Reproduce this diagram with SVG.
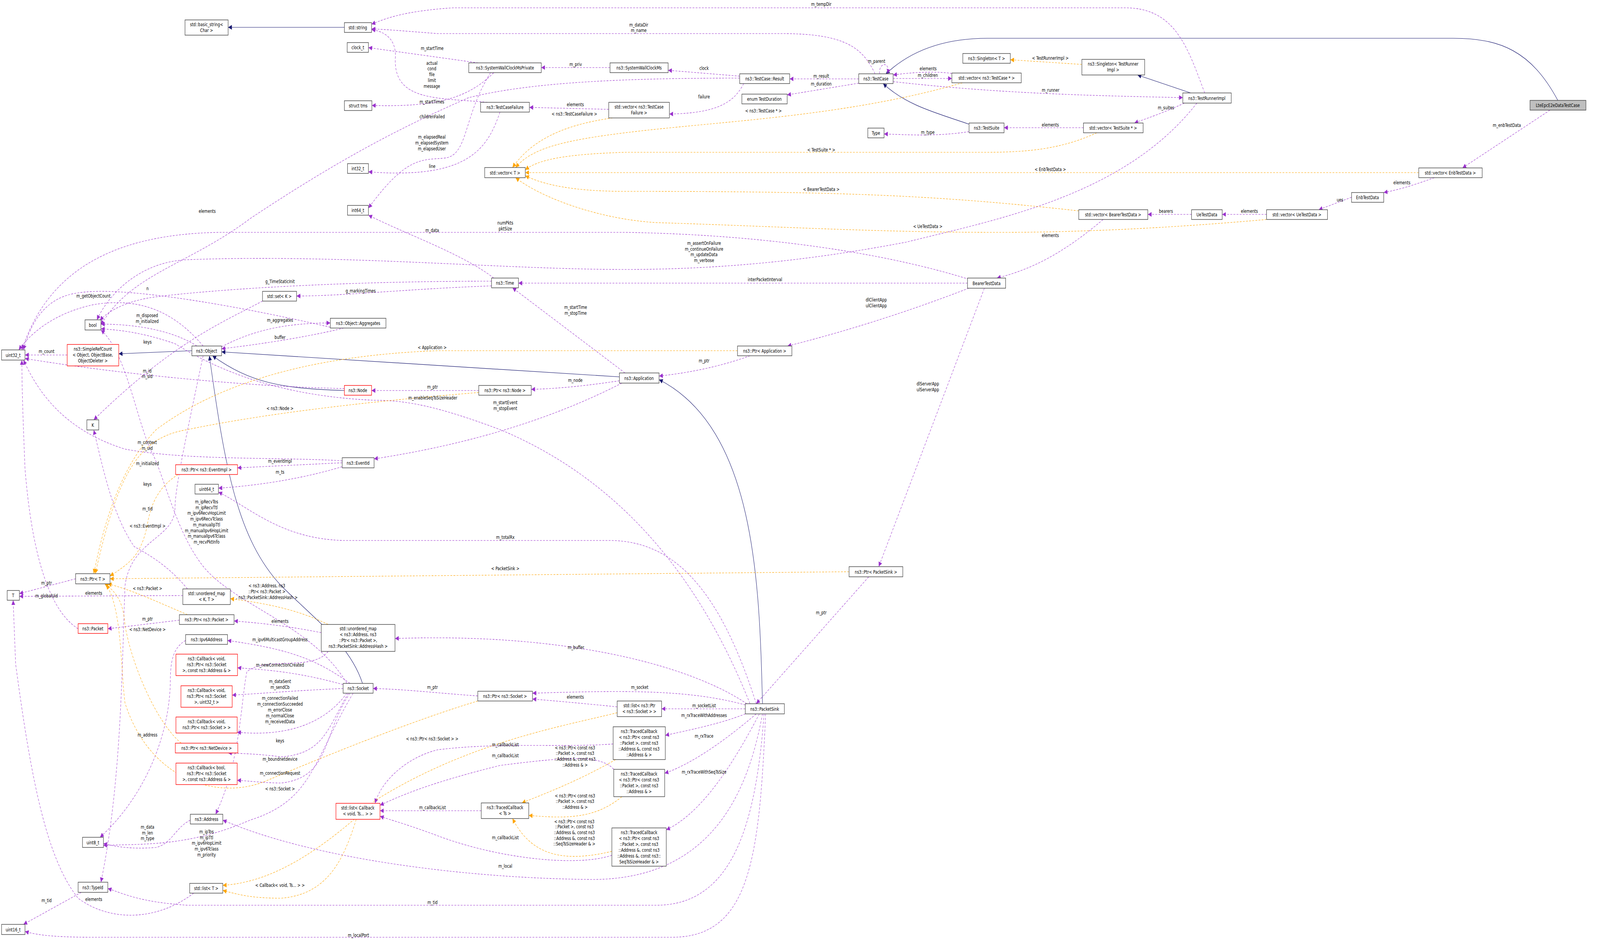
<svg xmlns="http://www.w3.org/2000/svg" width="5081" height="2407" viewBox="0 0 5081 2407">
<style>
text{font-family:"DejaVu Sans Condensed","DejaVu Sans","Liberation Sans",sans-serif;font-size:13px;fill:#000;text-anchor:middle}
.b{fill:#fff;stroke:#404040;stroke-width:1.4}
.r{fill:#fff;stroke:#ff0000;stroke-width:1.4}
.g{fill:#bfbfbf;stroke:#404040;stroke-width:1.4}
.p{fill:none;stroke:#9a32cd;stroke-width:1.1;stroke-dasharray:6,4;marker-end:url(#mp)}
.o{fill:none;stroke:#ffa500;stroke-width:1.1;stroke-dasharray:6,4;marker-end:url(#mo)}
.n{fill:none;stroke:#191970;stroke-width:1.2;marker-end:url(#mn)}
</style>
<defs>
<marker id="mp" viewBox="0 0 10 10" refX="10" refY="5" markerWidth="12" markerHeight="12" markerUnits="userSpaceOnUse" orient="auto"><path d="M0,0L10,5L0,10z" fill="#9a32cd"/></marker>
<marker id="mo" viewBox="0 0 10 10" refX="10" refY="5" markerWidth="12" markerHeight="12" markerUnits="userSpaceOnUse" orient="auto"><path d="M0,0L10,5L0,10z" fill="#ffa500"/></marker>
<marker id="mn" viewBox="0 0 10 10" refX="10" refY="5" markerWidth="12" markerHeight="12" markerUnits="userSpaceOnUse" orient="auto"><path d="M0,0L10,5L0,10z" fill="#191970"/></marker>
</defs>
<rect width="5081" height="2407" fill="#fff"/>
<g transform="scale(0.8,1)">
<g id="edges">
<path class="n" d="M1102,70L730,70"/>
<path class="n" d="M4985,257C4900,130 4800,98 4650,98L3160,98C3000,98 2900,140 2835,189"/>
<path class="n" d="M3101,318C3000,290 2900,270 2826,214"/>
<path class="n" d="M3810,238L3640,192"/>
<path class="n" d="M614,898L380,906"/>
<path class="n" d="M1102,1000C900,995 800,980 680,911"/>
<path class="n" d="M1982,965L709,901"/>
<path class="n" d="M1160,1750C1120,1650 1000,1580 900,1500C760,1380 720,1200 670,911"/>
<path class="n" d="M2440,1802C2430,1500 2420,1100 2109,972"/>
<path class="p" d="M2800,189C2760,120 2700,86 2500,86L1400,86C1300,80 1250,76 1189,74"/>
<path class="p" d="M3855,238C3800,120 3760,20 3600,20L1450,20C1300,28 1240,45 1189,62"/>
<path class="p" d="M1530,161L1179,122"/>
<path class="p" d="M1560,262C1400,250 1260,260 1265,150C1270,100 1230,80 1189,76"/>
<path class="p" d="M1580,186C1500,250 1400,275 1190,270"/>
<path class="p" d="M2367,200C2000,200 1700,210 1500,250C1300,320 1100,400 800,560C600,680 420,700 323,832"/>
<path class="p" d="M1570,186C1480,300 1500,400 1420,405C1350,410 1300,400 1179,533"/>
<path class="p" d="M1600,287C1560,380 1500,460 1179,440"/>
<path class="p" d="M1948,280L1694,275"/>
<path class="p" d="M1952,173L1732,173"/>
<path class="p" d="M2367,195L2138,180"/>
<path class="p" d="M2380,214C2350,260 2300,290 2142,292"/>
<path class="p" d="M2748,202L2527,202"/>
<path class="p" d="M2748,213L2519,243"/>
<path class="p" d="M2815,189C2810,160 2850,155 2840,189"/>
<path class="p" d="M3046,188C2990,182 2920,185 2858,192"/>
<path class="p" d="M2858,201L3046,201"/>
<path class="p" d="M2858,209C3200,240 3500,245 3785,250"/>
<path class="p" d="M3790,264C3720,290 3680,300 3630,315"/>
<path class="p" d="M3467,327L3213,327"/>
<path class="p" d="M3101,337C3000,350 2900,345 2829,343"/>
<path class="p" d="M3830,264C3600,500 3200,560 2900,620C2700,650 2400,690 2000,690C1600,690 1100,650 600,665C450,670 350,750 310,819"/>
<path class="p" d="M3100,715C2800,640 2400,600 2000,595L700,595C350,600 150,700 70,896"/>
<path class="p" d="M1580,712C1480,650 1300,600 1179,551"/>
<path class="p" d="M3096,725L1659,725"/>
<path class="p" d="M2000,955L1640,737"/>
<path class="p" d="M1573,732C1300,740 1100,758 949,758"/>
<path class="p" d="M1573,720C1100,720 700,740 500,760C400,770 340,800 320,821"/>
<path class="p" d="M1057,838C800,790 400,730 250,750C150,760 100,820 75,896"/>
<path class="p" d="M1100,840C1000,860 850,880 709,893"/>
<path class="p" d="M709,888C800,850 900,827 1057,827"/>
<path class="p" d="M630,886C560,850 450,830 323,830"/>
<path class="p" d="M650,886C560,800 450,760 300,780C180,800 100,850 60,896"/>
<path class="p" d="M840,771C700,830 550,880 300,1075"/>
<path class="p" d="M215,909L80,909"/>
<path class="p" d="M1102,995C800,990 400,960 80,918"/>
<path class="p" d="M1532,1000L1189,1000"/>
<path class="p" d="M1982,975C1900,985 1800,995 1700,997"/>
<path class="p" d="M1990,981C1700,1100 1400,1150 1197,1175"/>
<path class="p" d="M2400,911C2300,940 2200,955 2109,963"/>
<path class="p" d="M3100,738C2900,800 2700,850 2520,886"/>
<path class="p" d="M3150,738L2812,1451"/>
<path class="p" d="M2780,1477L2420,1802"/>
<path class="p" d="M3530,562C3400,650 3300,690 3190,712"/>
<path class="p" d="M3813,549L3673,549"/>
<path class="p" d="M4053,549L3911,549"/>
<path class="p" d="M4325,505L4220,537"/>
<path class="p" d="M4590,455C4520,475 4480,485 4428,493"/>
<path class="p" d="M4960,282L4680,430"/>
<path class="p" d="M1095,1180C900,1170 600,1180 400,1150C200,1100 120,1000 75,922"/>
<path class="p" d="M1095,1185L760,1198"/>
<path class="p" d="M1095,1195C950,1230 800,1245 699,1250"/>
<path class="p" d="M2420,1802C2300,1500 2150,1384 1950,1384L1100,1384C900,1380 800,1300 699,1260"/>
<path class="p" d="M2400,1802C2200,1400 1900,1200 1600,1100C1400,1040 1300,1025 1200,1025C900,1015 700,950 560,880C450,850 380,845 323,842"/>
<path class="p" d="M242,1482L62,1520"/>
<path class="p" d="M250,1610C150,1560 100,1400 80,1200C75,1100 70,1000 70,922"/>
<path class="p" d="M585,1525L62,1527"/>
<path class="p" d="M600,1508C550,1460 500,1430 430,1400C360,1320 330,1200 300,1101"/>
<path class="p" d="M574,1588L345,1610"/>
<path class="p" d="M1028,1620C900,1600 820,1595 749,1590"/>
<path class="p" d="M1050,1668C1000,1720 850,1680 790,1720C770,1800 770,1950 690,2085"/>
<path class="p" d="M1120,1750C1000,1680 900,1660 728,1640"/>
<path class="p" d="M1098,1753C950,1720 850,1715 760,1710"/>
<path class="p" d="M1098,1763C950,1768 850,1775 743,1780"/>
<path class="p" d="M1110,1775C1060,1830 960,1890 759,1875"/>
<path class="p" d="M1115,1775C1050,1860 1040,1930 900,1938C820,1930 780,1930 730,1928"/>
<path class="p" d="M1120,1775C1030,1880 1060,1990 900,2005C850,2005 800,2000 759,1998"/>
<path class="p" d="M1130,1775C1000,1950 1000,2050 800,2100C600,2170 450,2160 331,2165"/>
<path class="p" d="M1110,1750C1000,1600 750,1550 650,1450C560,1360 520,1200 480,1150C430,1050 400,900 323,845"/>
<path class="p" d="M1529,1782C1400,1775 1300,1765 1194,1763"/>
<path class="p" d="M2385,1805C2200,1765 2000,1768 1704,1775"/>
<path class="p" d="M1975,1810C1850,1800 1780,1795 1704,1790"/>
<path class="p" d="M2385,1815L2117,1815"/>
<path class="p" d="M2385,1828C2300,1855 2200,1870 2129,1883"/>
<path class="p" d="M2420,1828C2300,1910 2200,1960 2127,1980"/>
<path class="p" d="M2430,1828C2350,1950 2250,2080 2132,2125"/>
<path class="p" d="M1962,1905C1800,1915 1600,1900 1400,1920C1300,1940 1220,2000 1200,2057"/>
<path class="p" d="M1964,1970C1920,1930 1800,1940 1600,1960C1400,2000 1300,2030 1216,2062"/>
<path class="p" d="M1540,2076L1216,2076"/>
<path class="p" d="M1958,2190C1850,2220 1600,2200 1400,2140C1300,2110 1250,2100 1216,2090"/>
<path class="p" d="M2440,1828C2400,2000 2300,2250 1900,2252C1500,2250 1000,2200 713,2100"/>
<path class="p" d="M2445,1828C2420,2100 2350,2318 2100,2318L600,2318C450,2310 400,2290 345,2275"/>
<path class="p" d="M2450,1828C2430,2200 2400,2400 2150,2400L300,2400C180,2400 120,2395 80,2385"/>
<path class="p" d="M2390,1802C2200,1700 1800,1620 1264,1635"/>
<path class="p" d="M594,1640C550,1660 545,1700 545,1750C540,1900 450,2050 320,2144"/>
<path class="p" d="M609,2100C560,2120 550,2160 500,2170C420,2175 370,2168 331,2160"/>
<path class="p" d="M260,2285L75,2367"/>
<path class="p" d="M620,2287C500,2360 350,2360 250,2300C150,2200 100,2000 50,1700L42,1537"/>
<path class="p" d="M650,911C600,1100 560,1250 560,1300C560,1380 420,1380 400,1500C390,1700 390,2000 323,2259"/>
<path class="o" d="M1960,302C1800,320 1700,360 1640,429"/>
<path class="o" d="M3080,212C2700,300 2300,310 2000,340C1800,360 1700,380 1650,429"/>
<path class="o" d="M3510,340C3400,380 3300,390 3150,390L2000,390C1800,395 1720,410 1681,435"/>
<path class="o" d="M4540,442L1681,442"/>
<path class="o" d="M3452,540C3000,500 2700,490 2000,490C1800,490 1720,465 1681,450"/>
<path class="o" d="M4053,562C3800,580 3500,595 3200,595C2800,595 2500,580 2100,570C1900,560 1720,500 1650,455"/>
<path class="o" d="M3462,165L3233,153"/>
<path class="o" d="M2360,898L1400,898C1000,910 700,980 500,1100C380,1200 330,1350 300,1469"/>
<path class="o" d="M1532,1005C1300,1020 900,1050 600,1100C450,1120 380,1200 305,1469"/>
<path class="o" d="M570,1215C500,1250 480,1300 470,1350C450,1420 420,1440 352,1475"/>
<path class="o" d="M2717,1464L352,1482"/>
<path class="o" d="M600,1574C500,1540 420,1510 345,1495"/>
<path class="o" d="M580,1903C500,1850 420,1700 400,1600C395,1550 380,1520 335,1495"/>
<path class="o" d="M1529,1795C1300,1850 1000,1950 850,2000C700,2050 480,2000 400,1800C385,1700 390,1560 340,1497"/>
<path class="o" d="M1050,1599C950,1560 850,1545 737,1533"/>
<path class="o" d="M1975,1825C1800,1860 1500,1900 1200,2050C1000,2200 850,2260 713,2267"/>
<path class="o" d="M1140,2098C1100,2200 1050,2290 900,2300C800,2300 760,2290 713,2280"/>
<path class="o" d="M1970,1945C1850,2000 1750,2030 1670,2056"/>
<path class="o" d="M1990,2040C1900,2100 1800,2095 1692,2088"/>
<path class="o" d="M1958,2180C1800,2210 1700,2190 1640,2096"/>
</g>
<g id="n_basic"><rect class="b" x="592" y="51" width="138" height="39"/><text x="661" y="67">std::basic_string&lt;</text><text x="661" y="82">Char &gt;</text></g>
<g id="n_string"><rect class="b" x="1102" y="58" width="87" height="25"/><text x="1145" y="75">std::string</text></g>
<g id="n_clock"><rect class="b" x="1111" y="109" width="68" height="25"/><text x="1145" y="126">clock_t</text></g>
<g id="n_tms"><rect class="b" x="1102" y="258" width="88" height="25"/><text x="1146" y="275">struct tms</text></g>
<g id="n_int32"><rect class="b" x="1112" y="419" width="67" height="25"/><text x="1145" y="436">int32_t</text></g>
<g id="n_int64"><rect class="b" x="1112" y="526" width="67" height="25"/><text x="1145" y="543">int64_t</text></g>
<g id="n_setK"><rect class="b" x="840" y="746" width="109" height="25"/><text x="894" y="763">std::set&lt; K &gt;</text></g>
<g id="n_swpriv"><rect class="b" x="1500" y="161" width="232" height="25"/><text x="1616" y="178">ns3::SystemWallClockMsPrivate</text></g>
<g id="n_swms"><rect class="b" x="1952" y="161" width="186" height="25"/><text x="2045" y="178">ns3::SystemWallClockMs</text></g>
<g id="n_result"><rect class="b" x="2367" y="189" width="160" height="25"/><text x="2447" y="206">ns3::TestCase::Result</text></g>
<g id="n_dur"><rect class="b" x="2374" y="241" width="145" height="25"/><text x="2446" y="258">enum TestDuration</text></g>
<g id="n_tcf"><rect class="b" x="1538" y="262" width="156" height="25"/><text x="1616" y="279">ns3::TestCaseFailure</text></g>
<g id="n_vtcf"><rect class="b" x="1948" y="262" width="194" height="40"/><text x="2045" y="278">std::vector&lt; ns3::TestCase</text><text x="2045" y="293">Failure &gt;</text></g>
<g id="n_vT"><rect class="b" x="1551" y="429" width="130" height="26"/><text x="1616" y="447">std::vector&lt; T &gt;</text></g>
<g id="n_time"><rect class="b" x="1573" y="712" width="86" height="25"/><text x="1616" y="729">ns3::Time</text></g>
<g id="n_testcase"><rect class="b" x="2748" y="189" width="110" height="25"/><text x="2803" y="206">ns3::TestCase</text></g>
<g id="n_vtc"><rect class="b" x="3046" y="187" width="222" height="25"/><text x="3157" y="204">std::vector&lt; ns3::TestCase * &gt;</text></g>
<g id="n_singT"><rect class="b" x="3081" y="137" width="152" height="25"/><text x="3157" y="154">ns3::Singleton&lt; T &gt;</text></g>
<g id="n_singR"><rect class="b" x="3462" y="152" width="201" height="40"/><text x="3562" y="168">ns3::Singleton&lt; TestRunner</text><text x="3562" y="183">Impl &gt;</text></g>
<g id="n_suite"><rect class="b" x="3101" y="315" width="112" height="25"/><text x="3157" y="332">ns3::TestSuite</text></g>
<g id="n_type"><rect class="b" x="2777" y="328" width="52" height="25"/><text x="2803" y="345">Type</text></g>
<g id="n_vsuite"><rect class="b" x="3467" y="315" width="191" height="25"/><text x="3562" y="332">std::vector&lt; TestSuite * &gt;</text></g>
<g id="n_vbearer"><rect class="b" x="3452" y="537" width="221" height="25"/><text x="3562" y="554">std::vector&lt; BearerTestData &gt;</text></g>
<g id="n_bearer"><rect class="b" x="3096" y="712" width="122" height="26"/><text x="3157" y="730">BearerTestData</text></g>
<g id="n_runner"><rect class="b" x="3785" y="238" width="155" height="26"/><text x="3862" y="256">ns3::TestRunnerImpl</text></g>
<g id="n_lte"><rect class="g" x="4896" y="257" width="179" height="25"/><text x="4985" y="274">LteEpcE2eDataTestCase</text></g>
<g id="n_venb"><rect class="b" x="4540" y="430" width="203" height="25"/><text x="4641" y="447">std::vector&lt; EnbTestData &gt;</text></g>
<g id="n_enb"><rect class="b" x="4325" y="493" width="103" height="25"/><text x="4376" y="510">EnbTestData</text></g>
<g id="n_vue"><rect class="b" x="4053" y="537" width="195" height="25"/><text x="4150" y="554">std::vector&lt; UeTestData &gt;</text></g>
<g id="n_ue"><rect class="b" x="3813" y="537" width="98" height="25"/><text x="3862" y="554">UeTestData</text></g>
<g id="n_bool"><rect class="b" x="272" y="819" width="51" height="26"/><text x="297" y="837">bool</text></g>
<g id="n_uint32"><rect class="b" x="5" y="896" width="75" height="26"/><text x="42" y="914">uint32_t</text></g>
<g id="n_src"><rect class="r" x="215" y="882" width="165" height="55"/><text x="297" y="898">ns3::SimpleRefCount</text><text x="297" y="913">&lt; Object, ObjectBase,</text><text x="297" y="928">ObjectDeleter &gt;</text></g>
<g id="n_object"><rect class="b" x="614" y="886" width="95" height="25"/><text x="661" y="903">ns3::Object</text></g>
<g id="n_aggr"><rect class="b" x="1057" y="815" width="178" height="25"/><text x="1146" y="832">ns3::Object::Aggregates</text></g>
<g id="n_node"><rect class="r" x="1102" y="987" width="87" height="25"/><text x="1145" y="1004">ns3::Node</text></g>
<g id="n_K"><rect class="b" x="278" y="1075" width="38" height="26"/><text x="297" y="1093">K</text></g>
<g id="n_eventid"><rect class="b" x="1095" y="1172" width="102" height="26"/><text x="1146" y="1190">ns3::EventId</text></g>
<g id="n_ptrevent"><rect class="r" x="562" y="1190" width="198" height="25"/><text x="661" y="1207">ns3::Ptr&lt; ns3::EventImpl &gt;</text></g>
<g id="n_uint64"><rect class="b" x="624" y="1240" width="75" height="25"/><text x="661" y="1257">uint64_t</text></g>
<g id="n_ptrT"><rect class="b" x="242" y="1469" width="110" height="26"/><text x="297" y="1487">ns3::Ptr&lt; T &gt;</text></g>
<g id="n_T"><rect class="b" x="23" y="1512" width="39" height="25"/><text x="42" y="1529">T</text></g>
<g id="n_umapKT"><rect class="b" x="585" y="1508" width="152" height="40"/><text x="661" y="1524">std::unordered_map</text><text x="661" y="1539">&lt; K, T &gt;</text></g>
<g id="n_ptrpkt"><rect class="b" x="574" y="1574" width="175" height="25"/><text x="661" y="1591">ns3::Ptr&lt; ns3::Packet &gt;</text></g>
<g id="n_packet"><rect class="r" x="250" y="1597" width="95" height="25"/><text x="297" y="1614">ns3::Packet</text></g>
<g id="n_umapA"><rect class="b" x="1028" y="1599" width="236" height="69"/><text x="1146" y="1614">std::unordered_map</text><text x="1146" y="1629">&lt; ns3::Address, ns3</text><text x="1146" y="1644">::Ptr&lt; ns3::Packet &gt;,</text><text x="1146" y="1659">ns3::PacketSink::AddressHash &gt;</text></g>
<g id="n_ptrapp"><rect class="b" x="2360" y="886" width="174" height="25"/><text x="2447" y="903">ns3::Ptr&lt; Application &gt;</text></g>
<g id="n_app"><rect class="b" x="1982" y="955" width="127" height="26"/><text x="2045" y="973">ns3::Application</text></g>
<g id="n_ptrnode"><rect class="b" x="1532" y="987" width="168" height="25"/><text x="1616" y="1004">ns3::Ptr&lt; ns3::Node &gt;</text></g>
<g id="n_ptrsink"><rect class="b" x="2717" y="1451" width="172" height="26"/><text x="2803" y="1469">ns3::Ptr&lt; PacketSink &gt;</text></g>
<g id="n_ipv6"><rect class="b" x="594" y="1625" width="134" height="25"/><text x="661" y="1642">ns3::Ipv6Address</text></g>
<g id="n_cb1"><rect class="r" x="563" y="1675" width="197" height="55"/><text x="661" y="1691">ns3::Callback&lt; void,</text><text x="661" y="1706">ns3::Ptr&lt; ns3::Socket</text><text x="661" y="1721">&gt;, const ns3::Address &amp; &gt;</text></g>
<g id="n_cb2"><rect class="r" x="579" y="1756" width="164" height="55"/><text x="661" y="1772">ns3::Callback&lt; void,</text><text x="661" y="1787">ns3::Ptr&lt; ns3::Socket</text><text x="661" y="1802">&gt;, uint32_t &gt;</text></g>
<g id="n_cb3"><rect class="r" x="563" y="1836" width="196" height="41"/><text x="661" y="1852">ns3::Callback&lt; void,</text><text x="661" y="1867">ns3::Ptr&lt; ns3::Socket &gt; &gt;</text></g>
<g id="n_ptrnd"><rect class="r" x="561" y="1903" width="200" height="25"/><text x="661" y="1920">ns3::Ptr&lt; ns3::NetDevice &gt;</text></g>
<g id="n_cb4"><rect class="r" x="563" y="1954" width="196" height="55"/><text x="661" y="1970">ns3::Callback&lt; bool,</text><text x="661" y="1985">ns3::Ptr&lt; ns3::Socket</text><text x="661" y="2000">&gt;, const ns3::Address &amp; &gt;</text></g>
<g id="n_address"><rect class="b" x="609" y="2085" width="104" height="25"/><text x="661" y="2102">ns3::Address</text></g>
<g id="n_uint8"><rect class="b" x="264" y="2144" width="67" height="26"/><text x="297" y="2162">uint8_t</text></g>
<g id="n_typeid"><rect class="b" x="250" y="2259" width="95" height="26"/><text x="297" y="2277">ns3::TypeId</text></g>
<g id="n_listT"><rect class="b" x="607" y="2262" width="106" height="25"/><text x="660" y="2279">std::list&lt; T &gt;</text></g>
<g id="n_uint16"><rect class="b" x="5" y="2367" width="75" height="26"/><text x="42" y="2385">uint16_t</text></g>
<g id="n_socket"><rect class="b" x="1098" y="1750" width="96" height="25"/><text x="1146" y="1767">ns3::Socket</text></g>
<g id="n_listcb"><rect class="r" x="1075" y="2057" width="141" height="41"/><text x="1145" y="2073">std::list&lt; Callback</text><text x="1145" y="2088">&lt; void, Ts... &gt; &gt;</text></g>
<g id="n_sink"><rect class="b" x="2385" y="1802" width="125" height="26"/><text x="2447" y="1820">ns3::PacketSink</text></g>
<g id="n_ptrsock"><rect class="b" x="1529" y="1770" width="175" height="25"/><text x="1616" y="1787">ns3::Ptr&lt; ns3::Socket &gt;</text></g>
<g id="n_listsock"><rect class="b" x="1975" y="1795" width="142" height="40"/><text x="2046" y="1811">std::list&lt; ns3::Ptr</text><text x="2046" y="1826">&lt; ns3::Socket &gt; &gt;</text></g>
<g id="n_tc1"><rect class="b" x="1962" y="1861" width="167" height="84"/><text x="2045" y="1877">ns3::TracedCallback</text><text x="2045" y="1892">&lt; ns3::Ptr&lt; const ns3</text><text x="2045" y="1907">::Packet &gt;, const ns3</text><text x="2045" y="1922">::Address &amp;, const ns3</text><text x="2045" y="1937">::Address &amp; &gt;</text></g>
<g id="n_tc2"><rect class="b" x="1964" y="1970" width="163" height="70"/><text x="2045" y="1986">ns3::TracedCallback</text><text x="2045" y="2001">&lt; ns3::Ptr&lt; const ns3</text><text x="2045" y="2016">::Packet &gt;, const ns3</text><text x="2045" y="2031">::Address &amp; &gt;</text></g>
<g id="n_tcts"><rect class="b" x="1540" y="2056" width="152" height="40"/><text x="1616" y="2072">ns3::TracedCallback</text><text x="1616" y="2087">&lt; Ts &gt;</text></g>
<g id="n_tc3"><rect class="b" x="1958" y="2120" width="174" height="98"/><text x="2045" y="2136">ns3::TracedCallback</text><text x="2045" y="2151">&lt; ns3::Ptr&lt; const ns3</text><text x="2045" y="2166">::Packet &gt;, const ns3</text><text x="2045" y="2181">::Address &amp;, const ns3</text><text x="2045" y="2196">::Address &amp;, const ns3::</text><text x="2045" y="2211">SeqTsSizeHeader &amp; &gt;</text></g>
<g id="labels">
<text x="2628" y="15">m_tempDir</text>
<text x="2044" y="68">m_dataDir</text><text x="2044" y="82">m_name</text>
<text x="1383" y="128">m_startTime</text>
<text x="1382" y="166">actual</text><text x="1382" y="180">cond</text><text x="1382" y="195">file</text><text x="1382" y="210">limit</text><text x="1382" y="225">message</text>
<text x="1382" y="265">m_startTimes</text>
<text x="1383" y="303">childrenFailed</text>
<text x="1382" y="355">m_elapsedReal</text><text x="1382" y="370">m_elapsedSystem</text><text x="1382" y="385">m_elapsedUser</text>
<text x="1383" y="430">line</text>
<text x="1841" y="272">elements</text>
<text x="1838" y="296">&lt; ns3::TestCaseFailure &gt;</text>
<text x="1842" y="169">m_priv</text>
<text x="2253" y="179">clock</text>
<text x="2253" y="252">failure</text>
<text x="2443" y="288">&lt; ns3::TestCase * &gt;</text>
<text x="2805" y="161">m_parent</text>
<text x="2970" y="180">elements</text>
<text x="2969" y="197">m_children</text>
<text x="2628" y="199">m_result</text>
<text x="2628" y="219">m_duration</text>
<text x="3361" y="153">&lt; TestRunnerImpl &gt;</text>
<text x="3362" y="235">m_runner</text>
<text x="3731" y="280">m_suites</text>
<text x="3361" y="324">elements</text>
<text x="2969" y="343">m_type</text>
<text x="2628" y="388">&lt; TestSuite * &gt;</text>
<text x="3361" y="438">&lt; EnbTestData &gt;</text>
<text x="2628" y="489">&lt; BearerTestData &gt;</text>
<text x="3731" y="545">bearers</text>
<text x="2969" y="584">&lt; UeTestData &gt;</text>
<text x="3361" y="607">elements</text>
<text x="2804" y="772">dlClientApp</text><text x="2804" y="787">ulClientApp</text>
<text x="4822" y="325">m_enbTestData</text>
<text x="4486" y="472">elements</text>
<text x="4288" y="516">ues</text>
<text x="3998" y="545">elements</text>
<text x="663" y="545">elements</text>
<text x="1617" y="575">numPkts</text><text x="1617" y="590">pktSize</text>
<text x="1383" y="594">m_data</text>
<text x="2253" y="627">m_assertOnFailure</text><text x="2253" y="642">m_continueOnFailure</text><text x="2253" y="656">m_updateData</text><text x="2253" y="671">m_verbose</text>
<text x="2448" y="720">interPacketInterval</text>
<text x="1842" y="791">m_startTime</text><text x="1842" y="806">m_stopTime</text>
<text x="896" y="725">g_TimeStaticInit</text>
<text x="1154" y="749">g_markingTimes</text>
<text x="472" y="743">n</text>
<text x="299" y="762">m_getObjectCount</text>
<text x="471" y="812">m_disposed</text><text x="471" y="827">m_initialized</text>
<text x="896" y="824">m_aggregates</text>
<text x="896" y="868">buffer</text>
<text x="472" y="880">keys</text>
<text x="149" y="904">m_count</text>
<text x="1383" y="894">&lt; Application &gt;</text>
<text x="2253" y="928">m_ptr</text>
<text x="471" y="954">m_id</text><text x="471" y="968">m_sid</text>
<text x="1841" y="978">m_node</text>
<text x="1384" y="995">m_ptr</text>
<text x="1385" y="1023">m_enableSeqTsSizeHeader</text>
<text x="1617" y="1035">m_startEvent</text><text x="1617" y="1050">m_stopEvent</text>
<text x="896" y="1050">&lt; ns3::Node &gt;</text>
<text x="2969" y="987">dlServerApp</text><text x="2969" y="1002">ulServerApp</text>
<text x="471" y="1137">m_context</text><text x="471" y="1152">m_uid</text>
<text x="896" y="1185">m_eventImpl</text>
<text x="472" y="1191">m_initialized</text>
<text x="896" y="1213">m_ts</text>
<text x="472" y="1244">keys</text>
<text x="661" y="1289">m_ipRecvTos</text><text x="661" y="1304">m_ipRecvTtl</text><text x="661" y="1318">m_ipv6RecvHopLimit</text><text x="661" y="1333">m_ipv6RecvTclass</text><text x="661" y="1348">m_manualIpTtl</text><text x="661" y="1363">m_manualIpv6HopLimit</text><text x="661" y="1377">m_manualIpv6Tclass</text><text x="661" y="1392">m_recvPktInfo</text>
<text x="472" y="1307">m_tid</text>
<text x="472" y="1351">&lt; ns3::EventImpl &gt;</text>
<text x="1617" y="1380">m_totalRx</text>
<text x="1617" y="1460">&lt; PacketSink &gt;</text>
<text x="149" y="1497">m_ptr</text>
<text x="472" y="1511">&lt; ns3::Packet &gt;</text>
<text x="854" y="1504">&lt; ns3::Address, ns3</text><text x="854" y="1519">::Ptr&lt; ns3::Packet &gt;</text><text x="854" y="1534">, ns3::PacketSink::AddressHash &gt;</text>
<text x="300" y="1523">elements</text>
<text x="149" y="1530">m_globalUid</text>
<text x="2628" y="1573">m_ptr</text>
<text x="472" y="1589">m_ptr</text>
<text x="896" y="1595">elements</text>
<text x="472" y="1616">&lt; ns3::NetDevice &gt;</text>
<text x="896" y="1642">m_ipv6MulticastGroupAddress</text>
<text x="1843" y="1662">m_buffer</text>
<text x="896" y="1707">m_newConnectionCreated</text>
<text x="896" y="1749">m_dataSent</text><text x="896" y="1764">m_sendCb</text>
<text x="1384" y="1764">m_ptr</text>
<text x="2047" y="1764">m_socket</text>
<text x="1841" y="1789">elements</text>
<text x="896" y="1792">m_connectionFailed</text><text x="896" y="1807">m_connectionSucceeded</text><text x="896" y="1822">m_errorClose</text><text x="896" y="1837">m_normalClose</text><text x="896" y="1852">m_receivedData</text>
<text x="2253" y="1811">m_socketList</text>
<text x="2253" y="1836">m_rxTraceWithAddresses</text>
<text x="472" y="1886">m_address</text>
<text x="2253" y="1889">m_rxTrace</text>
<text x="1383" y="1896">&lt; ns3::Ptr&lt; ns3::Socket &gt; &gt;</text>
<text x="896" y="1901">keys</text>
<text x="1617" y="1911">m_callbackList</text>
<text x="1840" y="1919">&lt; ns3::Ptr&lt; const ns3</text><text x="1840" y="1933">::Packet &gt;, const ns3</text><text x="1840" y="1948">::Address &amp;, const ns3</text><text x="1840" y="1963">::Address &amp; &gt;</text>
<text x="1617" y="1939">m_callbackList</text>
<text x="896" y="1948">m_boundnetdevice</text>
<text x="2253" y="1981">m_rxTraceWithSeqTsSize</text>
<text x="896" y="1984">m_connectionRequest</text>
<text x="896" y="2024">&lt; ns3::Socket &gt;</text>
<text x="1840" y="2042">&lt; ns3::Ptr&lt; const ns3</text><text x="1840" y="2056">::Packet &gt;, const ns3</text><text x="1840" y="2071">::Address &amp; &gt;</text>
<text x="1384" y="2072">m_callbackList</text>
<text x="1838" y="2108">&lt; ns3::Ptr&lt; const ns3</text><text x="1838" y="2121">::Packet &gt;, const ns3</text><text x="1838" y="2136">::Address &amp;, const ns3</text><text x="1838" y="2151">::Address &amp;, const ns3</text><text x="1838" y="2165">::SeqTsSizeHeader &amp; &gt;</text>
<text x="472" y="2122">m_data</text><text x="472" y="2137">m_len</text><text x="472" y="2151">m_type</text>
<text x="661" y="2134">m_ipTos</text><text x="661" y="2149">m_ipTtl</text><text x="661" y="2163">m_ipv6HopLimit</text><text x="661" y="2178">m_ipv6Tclass</text><text x="661" y="2193">m_priority</text>
<text x="1617" y="2149">m_callbackList</text>
<text x="1617" y="2222">m_local</text>
<text x="896" y="2271">&lt; Callback&lt; void, Ts... &gt; &gt;</text>
<text x="300" y="2307">elements</text>
<text x="149" y="2310">m_tid</text>
<text x="1384" y="2315">m_tid</text>
<text x="1147" y="2399">m_localPort</text>
</g>
</g>
</svg>
